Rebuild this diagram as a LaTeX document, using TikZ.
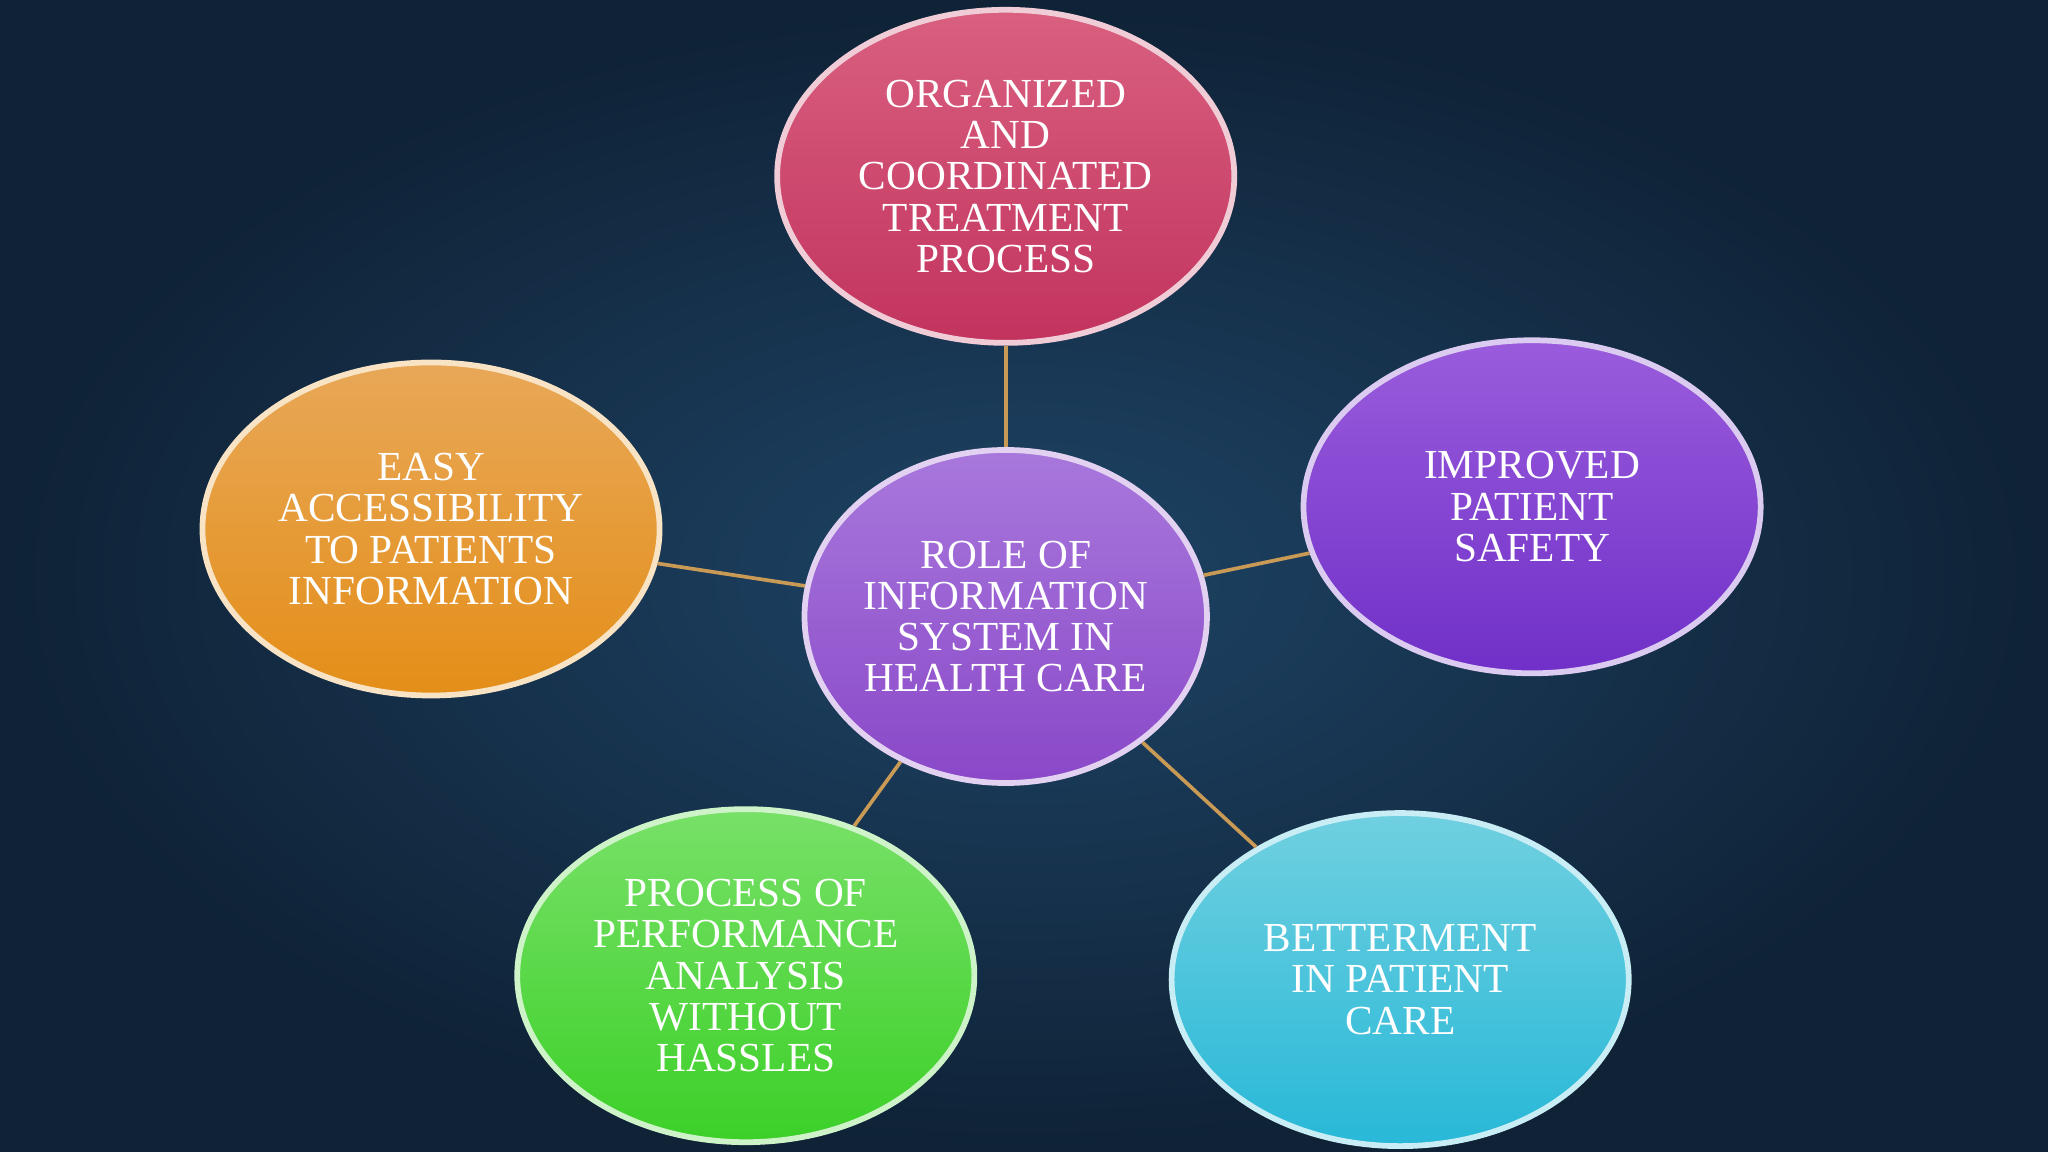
\documentclass[tikz,border=0pt]{standalone}
\usepackage{fontspec}
\setmainfont{Liberation Serif}
\usetikzlibrary{shapes.geometric,backgrounds}
\definecolor{bgin}{HTML}{1E4466}
\definecolor{bgout}{HTML}{0F2236}
\definecolor{lnk}{HTML}{C89A55}
\definecolor{topA}{HTML}{D9607F}\definecolor{topB}{HTML}{C2335E}
\definecolor{ctrA}{HTML}{A878DC}\definecolor{ctrB}{HTML}{8A48C8}
\definecolor{lftA}{HTML}{E8A858}\definecolor{lftB}{HTML}{E48E18}
\definecolor{rgtA}{HTML}{9A5CDC}\definecolor{rgtB}{HTML}{7030C8}
\definecolor{blA}{HTML}{78E068}\definecolor{blB}{HTML}{3CD028}
\definecolor{brA}{HTML}{70D0E0}\definecolor{brB}{HTML}{28B8D8}
\newlength{\px}\setlength{\px}{0.02cm}
\tikzset{
  bub/.style 2 args={ellipse, draw=white!75!#2, line width=2.5pt,
    top color=#1, bottom color=#2, text=white, align=center,
    minimum width=350\px, minimum height=255\px, inner sep=0pt,
    font=\fontsize{18}{18}\selectfont},
  link/.style={draw=lnk, line width=1.6pt}
}
\begin{document}
\begin{tikzpicture}[x=0.02cm,y=-0.02cm]
\shade[inner color=bgin, outer color=bgout] (0,0) rectangle (1568,882);
\useasboundingbox (0,0) rectangle (1568,882);
\node[bub={topA}{topB}] (top) at (770,135) {ORGANIZED\\AND\\COORDINATED\\TREATMENT\\PROCESS};
\node[bub={ctrA}{ctrB}, minimum width=292\px] (ctr) at (770,472) {ROLE OF\\INFORMATION\\SYSTEM IN\\HEALTH CARE};
\node[bub={lftA}{lftB}] (lft) at (330,405) {EASY\\ACCESSIBILITY\\TO PATIENTS\\INFORMATION};
\node[bub={rgtA}{rgtB}] (rgt) at (1173,388) {IMPROVED\\PATIENT\\SAFETY};
\node[bub={blA}{blB}] (bl) at (571,747) {PROCESS OF\\PERFORMANCE\\ANALYSIS\\WITHOUT\\HASSLES};
\node[bub={brA}{brB}] (br) at (1072,750) {BETTERMENT\\IN PATIENT\\CARE};
\draw[link] (top) -- (ctr);
\draw[link] (ctr) -- (lft);
\draw[link] (ctr) -- (rgt);
\draw[link] (ctr) -- (bl);
\draw[link] (ctr) -- (br);
\end{tikzpicture}
\end{document}
